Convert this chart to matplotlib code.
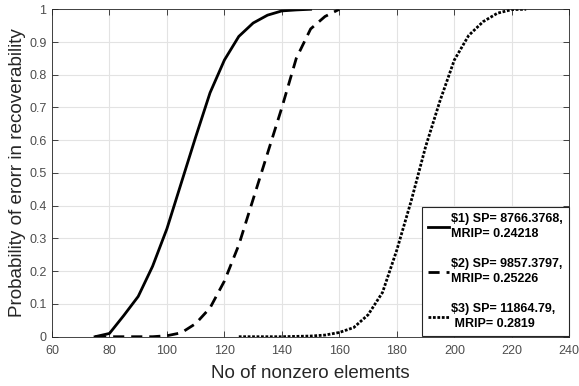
import numpy as np
import matplotlib
matplotlib.use("Agg")
import matplotlib.pyplot as plt

plt.rcParams['font.family'] = ['Liberation Sans', 'DejaVu Sans']

# curve 1 (solid)
x1 = [75, 80, 85, 90, 95, 100, 105, 110, 115, 120, 125, 130, 135, 140, 145, 150]
y1 = [0, 0.01, 0.065, 0.123, 0.215, 0.33, 0.47, 0.61, 0.745, 0.845, 0.917, 0.958, 0.982, 0.995, 0.998, 1.0]

# curve 2 (dashed)
x2 = [75, 80, 85, 90, 95, 100, 105, 110, 115, 120, 125, 130, 135, 140, 145, 150, 155, 160]
y2 = [0, 0, 0, 0, 0, 0.003, 0.012, 0.04, 0.088, 0.17, 0.28, 0.42, 0.56, 0.70, 0.85, 0.94, 0.978, 1.0]

# curve 3 (dotted)
x3 = [125, 130, 135, 140, 145, 150, 155, 160, 165, 170, 175, 180, 185, 190, 195, 200, 205, 210, 215, 220, 225]
y3 = [0, 0, 0, 0, 0.001, 0.002, 0.005, 0.013, 0.028, 0.067, 0.135, 0.265, 0.415, 0.58, 0.72, 0.845, 0.92, 0.962, 0.988, 0.999, 1.0]

labels = ['$1) SP= 8766.3768,\nMRIP= 0.24218',
          '$2) SP= 9857.3797,\nMRIP= 0.25226',
          '$3) SP= 11864.79,\n MRIP= 0.2819']

xticks = np.arange(60, 241, 20)
yticks = np.arange(0, 1.01, 0.1)
ytick_labels = ['0', '0.1', '0.2', '0.3', '0.4', '0.5', '0.6', '0.7', '0.8', '0.9', '1']

fig = plt.figure(figsize=(5.79, 3.86), dpi=100)
ax = fig.add_axes([0.0898, 0.1277, 0.8934, 0.8483])

ax.plot(x1, y1, color='black', linestyle='-', linewidth=2, label=labels[0])
ax.plot(x2, y2, color='black', linestyle=(0, (4, 2.5)), linewidth=2, label=labels[1])
ax.plot(x3, y3, color='black', linestyle=(0, (1, 0.6)), linewidth=2, label=labels[2])

ax.set_xlim(60, 240)
ax.set_ylim(0, 1)
ax.set_xticks(xticks)
ax.set_yticks(yticks)
ax.set_yticklabels(ytick_labels)
ax.grid(True, color='#e3e3e3', linewidth=0.8)
ax.set_axisbelow(True)
ax.tick_params(direction='in', top=True, right=True, labelsize=9, colors='#262626',
               length=4, width=0.6)
ax.tick_params(axis='x', pad=6)
ax.tick_params(axis='y', pad=4)
ax.tick_params(axis='both', labelcolor='#4d4d4d')
for s in ax.spines.values():
    s.set_color('#262626')
    s.set_linewidth(0.6)

ax.set_xlabel('No of nonzero elements', fontsize=13.5, color='#262626', labelpad=6)
ax.set_ylabel('Probability of erorr in recoverability', fontsize=13.6, color='#262626', labelpad=2)

leg = ax.legend(loc='lower right', bbox_to_anchor=(1.0, 0.0),
                prop={'weight': 'bold', 'size': 9},
                handlelength=1.75, handletextpad=0.15, fancybox=False, framealpha=1,
                edgecolor='#262626', borderaxespad=0.05, labelspacing=1.4,
                borderpad=0.45)
leg.get_frame().set_linewidth(0.8)
for t in leg.get_texts():
    t.set_linespacing(1.4)

fig.savefig('out.png', dpi=100)
